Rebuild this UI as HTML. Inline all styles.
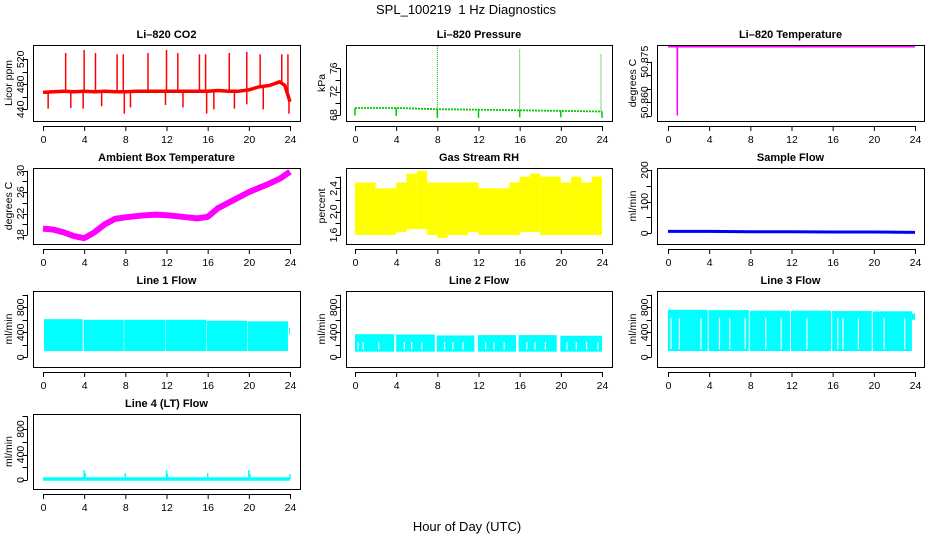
<!DOCTYPE html>
<html><head><meta charset="utf-8"><style>
html,body{margin:0;padding:0;background:#fff;}
svg{display:block;font-family:"Liberation Sans",Arial,sans-serif;}
</style></head><body>
<svg id="chart" width="936" height="540" viewBox="0 0 936 540" xmlns="http://www.w3.org/2000/svg">
<text x="466" y="14" text-anchor="middle" font-size="13">SPL_100219&#160; 1 Hz Diagnostics</text>
<text x="467" y="531" text-anchor="middle" font-size="13">Hour of Day (UTC)</text>
</svg>
<script>
// ---- data ----
const xTicks = [0,4,8,12,16,20,24];
// CO2
const co2Hours = [0,1,2,3,4,5,6,7,8,9,10,11,12,13,14,15,16,17,18,19,20,21,22,23,23.5,24];
const co2Base  = [467,468,469,468,469,468,469,468,468,469,469,469,469,469,469,469,469,470,469,469,471,476,478,484,478,452];
const co2SpikeHours = [2.2,4.0,5.1,7.2,7.8,10.2,12.0,13.1,15.2,15.8,18.1,19.8,21.1,23.2,23.8];
const co2SpikeVals  = [530,535,530,528,528,530,535,530,528,528,530,532,528,528,528];
const co2DipHours = [0.5,2.7,3.9,5.7,7.9,8.5,11.9,13.6,15.9,16.6,18.6,19.8,21.4,23.9];
const co2DipVals  = [441,442,441,445,433,443,447,443,433,440,441,448,440,433];
// Pressure
const presHours = [0,4,8,12,16,20,24];
const presBase  = [69.2,69.2,69.0,68.9,68.8,68.7,68.6];
const presSpikeHours = [8,16,23.9];
const presSpikeVals  = [79.8,79.3,78.4];
const presDipHours = [0,4,8,12,16,20,24];
const presDipVals  = [67.9,67.8,67.5,67.5,67.6,67.6,67.5];
// Li-820 temperature
const tempHours = [0,0.9,0.9,0.92,24];
const tempVals  = [50.8805,50.8805,50.8553,50.8805,50.8805];
// Ambient box temperature
const ambHours = [0,1,2,3,4,5,6,7,8,9,10,11,12,13,14,15,16,17,18,19,20,21,22,23,24];
const ambVals  = [19.2,19.0,18.5,17.8,17.4,18.5,20.0,21.0,21.3,21.5,21.7,21.8,21.7,21.5,21.3,21.1,21.4,23.0,24.0,25.0,26.0,26.8,27.6,28.5,29.8];
// Gas stream RH (hourly band)
const rhHours = [0,1,2,3,4,5,6,7,8,9,10,11,12,13,14,15,16,17,18,19,20,21,22,23];
const rhHigh  = [2.5,2.5,2.4,2.4,2.5,2.65,2.7,2.5,2.5,2.5,2.5,2.5,2.4,2.4,2.4,2.5,2.6,2.65,2.6,2.6,2.5,2.6,2.5,2.6];
const rhLow   = [1.6,1.6,1.6,1.6,1.65,1.7,1.7,1.6,1.55,1.6,1.6,1.65,1.6,1.6,1.6,1.6,1.65,1.65,1.6,1.6,1.6,1.6,1.6,1.6];
// Sample flow
const sfHours = [0,4,8,12,16,20,24];
const sfVals  = [6,6,5,5,4,4,3];
// Line flows
const l1Start = [0.1,3.95,7.9,11.9,15.9,19.9,23.9];
const l1End   = [3.85,7.85,11.85,15.85,19.85,23.8,24];
const l1High  = [610,600,600,600,585,575,470];
const l1Low   = [100,100,100,100,100,100,370];
const l1GapHours = [];
const l2Start = [0,4.0,7.95,11.95,15.9,19.95];
const l2End   = [3.8,7.75,11.6,15.65,19.6,24];
const l2High  = [370,365,350,355,355,345];
const l2Low   = [90,90,90,90,90,90];
const l2GapHours = [0.3,0.8,2.3,4.8,5.5,6.5,8.7,9.5,10.5,12.7,13.5,14.5,16.7,17.5,18.5,20.6,21.5,22.5,23.6];
const l3Start = [0,3.95,7.95,11.95,15.95,19.9,23.7];
const l3End   = [3.85,7.85,11.85,15.85,19.8,23.7,24];
const l3High  = [760,755,745,745,740,735,700];
const l3Low   = [100,100,100,100,100,100,600];
const l3GapHours = [0.3,1.1,3.2,5.0,6.0,7.5,9.5,11.0,13.5,16.5,17.0,18.5,21.0,23.0];
// Line 4
const l4Hours = [0,24];
const l4Vals  = [15,15];
const l4SpikeHours = [4.0,4.1,8.0,12.0,12.1,16.0,20.0,20.1,24.0];
const l4SpikeVals  = [155,110,110,155,100,110,155,100,90];

// ---- layout ----
const NS = "http://www.w3.org/2000/svg";
const svg = document.getElementById('chart');
function el(tag, attrs, parent){const e=document.createElementNS(NS,tag);for(const k in attrs)e.setAttribute(k,attrs[k]);(parent||svg).appendChild(e);return e;}
const cols = [{l:33,r:300,x0:43,x24:290},{l:346,r:612,x0:355,x24:602},{l:657,r:924,x0:668,x24:915}];
const rows = [{t:45,b:121},{t:168,b:244},{t:291,b:367},{t:414,b:489}];

function panel(name, title, ylabel, c, r, yCal, ticks, labels, digits){
  const col=cols[c], row=rows[r];
  const g=el('g',{});
  
  
  const xs=h=>col.x0+(col.x24-col.x0)*h/24;
  const ys=v=>yCal[1]+(yCal[3]-yCal[1])*(v-yCal[0])/(yCal[2]-yCal[0]);
  const clip='clip-'+name;
  const cp=el('clipPath',{id:clip},g); el('rect',{x:col.l,y:row.t,width:col.r-col.l,height:row.b-row.t},cp);
  const plot=el('g',{'clip-path':'url(#'+clip+')'},g);
  
  
  const t=el('text',{x:(col.l+col.r)/2,y:row.t-7,'text-anchor':'middle','font-size':11,'font-weight':'bold'},g);
  t.textContent=title;
  
  
  const box=el('rect',{x:col.l+0.5,y:row.t+0.5,width:col.r-col.l,height:row.b-row.t,fill:'none',stroke:'#000','stroke-width':1},g);
  
  
  const xa=el('g',{},g);
  
  
  el('line',{x1:xs(0),x2:xs(24),y1:row.b+5.5,y2:row.b+5.5,stroke:'#000'},xa);
  xTicks.forEach(h=>{
    el('line',{x1:xs(h)+0.5,x2:xs(h)+0.5,y1:row.b+5,y2:row.b+10,stroke:'#000'},xa);
    const tx=el('text',{x:xs(h)+0.5,y:row.b+22,'text-anchor':'middle','font-size':10.5},xa);
    tx.textContent=h;
    
    
  });
  const ya=el('g',{},g);
  
  
  const ax=col.l-5.5;
  el('line',{x1:ax,x2:ax,y1:ys(ticks[0]),y2:ys(ticks[ticks.length-1]),stroke:'#000'},ya);
  ticks.forEach(v=>{el('line',{x1:ax-5,x2:ax,y1:Math.round(ys(v))+0.5,y2:Math.round(ys(v))+0.5,stroke:'#000'},ya);});
  labels.forEach(v=>{
    const yy=ys(v), xx=col.l-9;
    const tx=el('text',{x:xx,y:yy,'text-anchor':'middle','font-size':10.5,transform:`rotate(-90 ${xx} ${yy})`},ya);
    tx.textContent=digits?v.toFixed(digits):v;
    
    
  });
  const tx2=col.l-21, ty2=(row.t+row.b)/2;
  const yl=el('text',{x:tx2,y:ty2,'text-anchor':'middle','font-size':10.5,transform:`rotate(-90 ${tx2} ${ty2})`},g);
  yl.textContent=ylabel;
  
  
  return {xs,ys,plot};
}
function poly(p,hs,vs,color,w,name,dash){
  const pts=hs.map((h,i)=>p.xs(h).toFixed(1)+','+p.ys(vs[i]).toFixed(1)).join(' ');
  const e=el('polyline',{points:pts,fill:'none',stroke:color,'stroke-width':w,'stroke-linejoin':'round'},p.plot);
  if(dash)e.setAttribute('stroke-dasharray',dash);
  
  
}
function vlines(p,hs,vs,base,color,w,name,dash){
  hs.forEach((h,i)=>{
    const e=el('line',{x1:p.xs(h),x2:p.xs(h),y1:p.ys(base(h)),y2:p.ys(vs[i]),stroke:color,'stroke-width':w},p.plot);
    if(dash)e.setAttribute('stroke-dasharray',dash);
    
    
  });
}
function interp(hs,vs){return h=>{for(let i=1;i<hs.length;i++){if(h<=hs[i]){const f=(h-hs[i-1])/(hs[i]-hs[i-1]||1);return vs[i-1]+f*(vs[i]-vs[i-1]);}}return vs[vs.length-1];};}
function bands(p,st,en,hi,lo,gaps,color,name){
  st.forEach((s,i)=>{
    const y1=p.ys(hi[i]),y2=p.ys(lo[i]);
    const e=el('rect',{x:p.xs(s),y:y1,width:p.xs(en[i])-p.xs(s),height:y2-y1,fill:color},p.plot);
    
    
  });
  gaps.forEach(h=>{
    const e=el('line',{x1:p.xs(h),x2:p.xs(h),y1:p.ys(hi[0])+8,y2:p.ys(lo[0])-2,stroke:'#fff','stroke-width':1.2},p.plot);
    
    
  });
}

// Row 1
let p=panel('co2-panel','Li\u2013820 CO2','Licor ppm',0,0,[440,109.3,520,59.3],[440,460,480,500,520],[440,480,520]);
const co2f=interp(co2Hours,co2Base);
vlines(p,co2SpikeHours,co2SpikeVals,co2f,'#ff0000',1.5,'co2-spike');
vlines(p,co2DipHours,co2DipVals,co2f,'#ff0000',1.5,'co2-dip');
poly(p,co2Hours,co2Base,'#ff0000',3.5,'co2-line');

p=panel('pressure-panel','Li\u2013820 Pressure','kPa',1,0,[68,115,76,68.3],[68,70,72,74,76],[68,72,76]);
const pf=interp(presHours,presBase);
vlines(p,presSpikeHours,presSpikeVals,pf,'#00b000',1,'pressure-spike','1,1');
vlines(p,presDipHours,presDipVals,pf,'#00cc00',1.5,'pressure-dip');
poly(p,presHours,presBase,'#00cc00',1.8,'pressure-line','2,1');

p=panel('li820-temp-panel','Li\u2013820 Temperature','degrees C',2,0,[50.86,102.3,50.875,61.7],[50.855,50.86,50.865,50.87,50.875],[50.860,50.875],3);
poly(p,tempHours,tempVals,'#ff00ff',1.5,'li820-temp-line');

// Row 2
p=panel('ambient-temp-panel','Ambient Box Temperature','degrees C',0,1,[18,235,30,170.7],[18,20,22,24,26,28,30],[18,22,26,30]);
poly(p,ambHours,ambVals,'#ff00ff',6,'ambient-temp-line');

p=panel('rh-panel','Gas Stream RH','percent',1,1,[1.6,235,2.4,188.3],[1.6,1.8,2.0,2.2,2.4,2.6],[1.6,2.0,2.4],1);
bands(p,rhHours,rhHours.map(h=>h+1),rhHigh,rhLow,[],'#ffff00','rh-band');

p=panel('sample-flow-panel','Sample Flow','ml/min',2,1,[0,233.3,200,170],[0,50,100,150,200],[0,100,200]);
poly(p,sfHours,sfVals,'#0000ff',3,'sample-flow-line');

// Row 3
const fT=[0,200,400,600,800,1000], fL=[0,400,800];
p=panel('line1-flow-panel','Line 1 Flow','ml/min',0,2,[0,357.3,800,307.3],fT,fL);
bands(p,l1Start,l1End,l1High,l1Low,l1GapHours,'#00ffff','line1-flow-band');
p=panel('line2-flow-panel','Line 2 Flow','ml/min',1,2,[0,357.3,800,307.3],fT,fL);
bands(p,l2Start,l2End,l2High,l2Low,l2GapHours,'#00ffff','line2-flow-band');
p=panel('line3-flow-panel','Line 3 Flow','ml/min',2,2,[0,357.3,800,307.3],fT,fL);
bands(p,l3Start,l3End,l3High,l3Low,l3GapHours,'#00ffff','line3-flow-band');

// Row 4
p=panel('line4-flow-panel','Line 4 (LT) Flow','ml/min',0,3,[0,480,800,429],fT,fL);
const l4f=interp(l4Hours,l4Vals);
vlines(p,l4SpikeHours,l4SpikeVals,l4f,'#00ffff',1.5,'line4-spike');
poly(p,l4Hours,l4Vals,'#00ffff',3.5,'line4-flow-line');
</script>
</body></html>
